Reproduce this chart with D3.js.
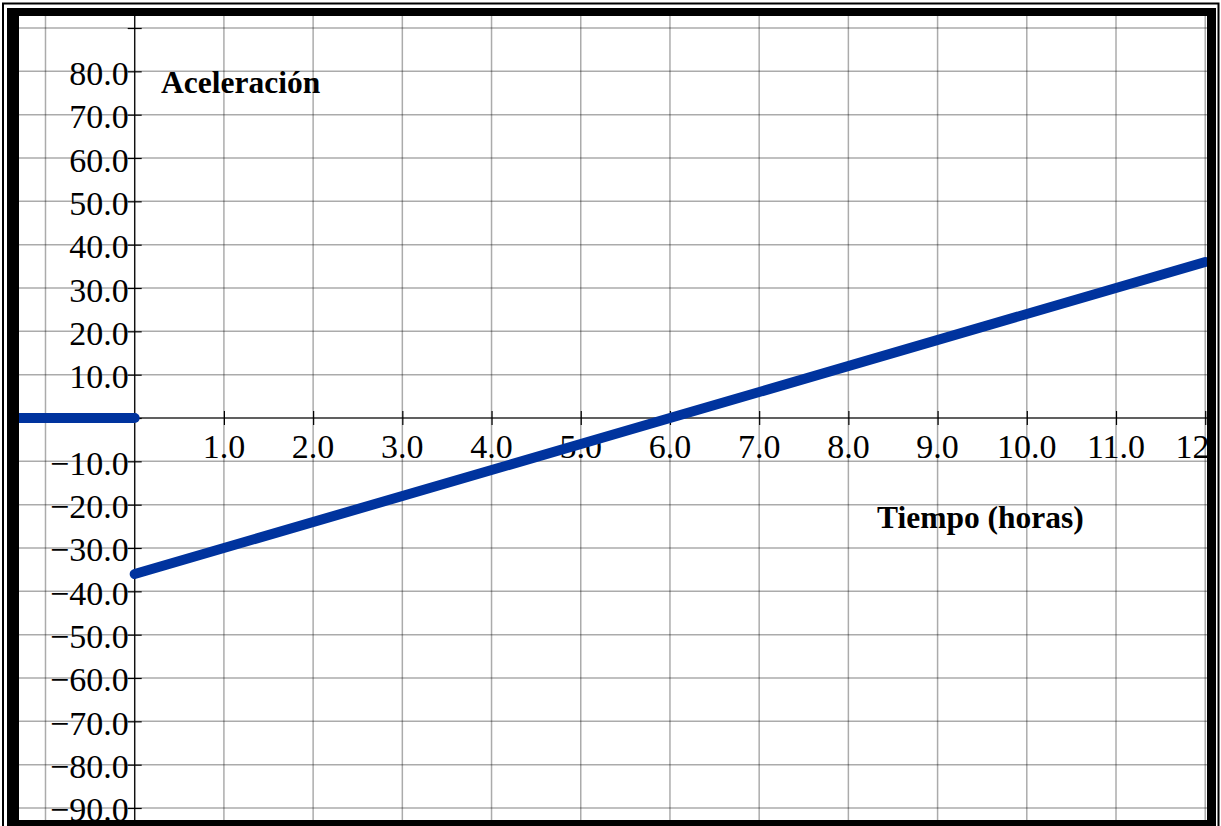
<!DOCTYPE html>
<html><head><meta charset="utf-8">
<script src="https://cdn.jsdelivr.net/npm/d3@7"></script>
<style>html,body{margin:0;padding:0;background:#fff;overflow:hidden}svg{display:block}</style>
</head><body>
<script>
// ---- data ----
const xGrid = [-1,0,1,2,3,4,5,6,7,8,9,10,11,12];
const xTicks = [1,2,3,4,5,6,7,8,9,10,11,12];
const xTickLabels = ["1.0","2.0","3.0","4.0","5.0","6.0","7.0","8.0","9.0","10.0","11.0","12.0"];
const yGrid = [-90,-80,-70,-60,-50,-40,-30,-20,-10,0,10,20,30,40,50,60,70,80,90];
const yTicks = [-90,-80,-70,-60,-50,-40,-30,-20,-10,10,20,30,40,50,60,70,80];
const yTickLabels = ["\u221290.0","\u221280.0","\u221270.0","\u221260.0","\u221250.0","\u221240.0","\u221230.0","\u221220.0","\u221210.0","10.0","20.0","30.0","40.0","50.0","60.0","70.0","80.0"];
const timeBefore = [-1.3, 0];
const accelBefore = [0, 0];
const time = [0, 6, 12];
const accel = [-36, 0, 36];
const yLabel = "Aceleración";
const xLabel = "Tiempo (horas)";

// ---- layout ----
const W = 1221, H = 826;
const plot = {x0: 19, y0: 16, x1: 1207, y1: 820};
const svg = d3.select("body").append("svg").attr("width", W).attr("height", H);

// frame
svg.append("rect").attr("x",3).attr("y",3.5).attr("width",1215.5).attr("height",840)
  .attr("fill","none").attr("stroke","#000").attr("stroke-width",2);
svg.append("rect").attr("x",7).attr("y",8).attr("width",1209).attr("height",840).attr("fill","#000");
svg.append("rect").attr("x",plot.x0).attr("y",plot.y0).attr("width",plot.x1-plot.x0).attr("height",plot.y1-plot.y0).attr("fill","#fff");

const x = d3.scaleLinear().domain([-1.297, 12.02]).range([plot.x0, plot.x1]);
const y = d3.scaleLinear().domain([-92.77, 92.77]).range([plot.y1, plot.y0]);

svg.append("defs").append("clipPath").attr("id","clip")
  .append("rect").attr("x",plot.x0).attr("y",plot.y0).attr("width",plot.x1-plot.x0).attr("height",plot.y1-plot.y0);
const g = svg.append("g").attr("clip-path","url(#clip)");

// grid
g.append("g").selectAll("line").data(xGrid).join("line")
  .attr("x1",d=>x(d)).attr("x2",d=>x(d)).attr("y1",plot.y0).attr("y2",plot.y1)
  .attr("stroke","rgba(0,0,0,0.33)").attr("stroke-width",1.5);
g.append("g").selectAll("line").data(yGrid).join("line")
  .attr("y1",d=>y(d)).attr("y2",d=>y(d)).attr("x1",plot.x0).attr("x2",plot.x1)
  .attr("stroke","rgba(0,0,0,0.33)").attr("stroke-width",1.5);

// axes via d3
const xAxis = d3.axisBottom(x).tickValues(xTicks).tickSizeInner(7).tickSizeOuter(0).tickFormat("");
const yAxis = d3.axisLeft(y).tickValues(yGrid).tickSizeInner(7).tickSizeOuter(0).tickFormat("");
const xa = g.append("g").attr("transform",`translate(0,${y(0)})`).call(xAxis);
xa.select(".domain").attr("d",`M${plot.x0},0H${plot.x1}`);
xa.selectAll(".tick line").attr("y1",-7).attr("y2",7);
const ya = g.append("g").attr("transform",`translate(${x(0)},0)`).call(yAxis);
ya.select(".domain").attr("d",`M0,${plot.y0}V${plot.y1}`);
ya.selectAll(".tick line").attr("x1",-7).attr("x2",7);
g.selectAll(".domain").attr("stroke","#000").attr("stroke-width",1.2);
g.selectAll(".tick line").attr("stroke","#000").attr("stroke-width",1.2);

// tick labels
const font = "'Liberation Serif','Times New Roman',serif";
g.append("g").selectAll("text").data(xTicks).join("text")
  .attr("x",d=>x(d)).attr("y",y(0)+40).attr("text-anchor","middle")
  .attr("font-family",font).attr("font-size",34).attr("fill","#000")
  .text((d,i)=>xTickLabels[i]);
g.append("g").selectAll("text").data(yTicks).join("text")
  .attr("x",x(0)-6).attr("y",d=>y(d)+13.5).attr("text-anchor","end")
  .attr("font-family",font).attr("font-size",34).attr("fill","#000")
  .text((d,i)=>yTickLabels[i]);

// series
const line = d3.line().x(d=>x(d[0])).y(d=>y(d[1]));
const blue = "#00339e";
g.append("path").datum(timeBefore.map((t,i)=>[t,accelBefore[i]])).attr("d",line)
  .attr("fill","none").attr("stroke",blue).attr("stroke-width",10).attr("stroke-linecap","round");
g.append("path").datum(time.map((t,i)=>[t,accel[i]])).attr("d",line)
  .attr("fill","none").attr("stroke",blue).attr("stroke-width",10).attr("stroke-linecap","round");

// axis titles
svg.append("text").attr("x",161).attr("y",93).attr("font-family",font).attr("font-weight","bold")
  .attr("font-size",31.5).attr("fill","#000").text(yLabel);
svg.append("text").attr("x",877).attr("y",528).attr("font-family",font).attr("font-weight","bold")
  .attr("font-size",31.5).attr("fill","#000").text(xLabel);
</script>
</body></html>
